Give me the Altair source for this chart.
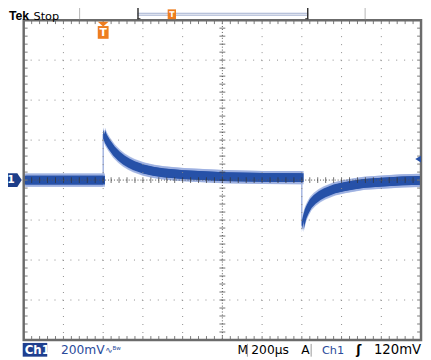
import altair as alt
import numpy as np
import pandas as pd

# ---- trace (time in µs, 0 = trigger; voltage in mV) ----
t_before = [-400, 0]
v_before = [0, 0]
t_on = [0, 10, 25, 50, 75, 100, 125, 150, 200, 250, 300, 400, 500, 600, 800, 1000]
v_on = [230, 205, 180, 145, 120, 100, 85, 72, 55, 44, 36, 27, 22, 17, 13, 12]
t_off = [1000, 1006, 1015, 1025, 1040, 1060, 1085, 1110, 1160, 1210, 1260, 1310, 1400, 1500, 1600]
v_off = [-228, -200, -168, -145, -118, -97, -78, -64, -44, -33, -24, -16, -10, -4, -1]

# screen layout (200 µs/div, 200 mV/div)
t_domain = [-400, 1600]
v_domain = [-800, 800]
grid_t = [-200, 0, 200, 400, 800, 1000, 1200, 1400]
grid_v = [-600, -400, -200, 200, 400, 600]
center_t = 600
center_v = 0
trigger_t = [0]
trigger_level = [105]

W, H = 405, 326
xs = alt.Scale(domain=t_domain, nice=False, zero=False)
ys = alt.Scale(domain=v_domain, nice=False, zero=False)


def X(f="t"):
    return alt.X(f"{f}:Q", scale=xs, axis=None)


def Y(f="v"):
    return alt.Y(f"{f}:Q", scale=ys, axis=None)


t_all = t_before + t_on + t_off
v_all = v_before + v_on + v_off
seg_all = ["a"] * len(t_before) + ["b"] * len(t_on) + ["c"] * len(t_off)
trace = pd.DataFrame({"t": t_all, "v": v_all, "seg": seg_all,
                      "i": list(range(len(t_all)))})

minor_t = np.arange(t_domain[0], t_domain[1] + 1, 40)
minor_v = np.arange(v_domain[0], v_domain[1] + 1, 40)
mt = pd.DataFrame({"t": minor_t, "v": center_v})
mv = pd.DataFrame({"v": minor_v, "t": center_t})
one = pd.DataFrame({"k": [0]})

layers = []

# ---- trace: thin line for the edges, then a noisy band (fringe + core) ----
base = alt.Chart(trace)
layers.append(base.mark_line(color="#8ea3d9", strokeWidth=1.2).encode(
    x=X(), y=Y(), order="i:Q"))
for shift in (0, 9):
    layers.append(base.transform_calculate(
        ts=f"datum.t + {shift}", lo="datum.v - 33", hi="datum.v + 33").mark_area(
        color="#9aaee0", opacity=0.8, clip=True).encode(
        x=X("ts"), y=Y("lo"), y2=alt.Y2("hi"), detail="seg:N"))
for shift in (0, 9):
    layers.append(base.transform_calculate(
        ts=f"datum.t + {shift}", lo="datum.v - 22", hi="datum.v + 22").mark_area(
        color="#2651a8", opacity=1, clip=True).encode(
        x=X("ts"), y=Y("lo"), y2=alt.Y2("hi"), detail="seg:N"))

# ---- graticule (drawn over the trace, as on the scope) ----
layers.append(alt.Chart(pd.DataFrame({"t": grid_t})).mark_rule(
    color="#8a8a8a", strokeWidth=1, strokeDash=[1, 7.15]).encode(x=X()))
layers.append(alt.Chart(pd.DataFrame({"v": grid_v})).mark_rule(
    color="#8a8a8a", strokeWidth=1, strokeDash=[1, 7.1]).encode(y=Y()))
layers.append(alt.Chart(pd.DataFrame({"t": [center_t]})).mark_rule(
    color="#555555", strokeWidth=1, strokeDash=[1, 2]).encode(x=X()))
layers.append(alt.Chart(pd.DataFrame({"v": [center_v]})).mark_rule(
    color="#555555", strokeWidth=1, strokeDash=[1, 2]).encode(y=Y()))
layers.append(alt.Chart(mt).mark_tick(
    orient="vertical", size=6, thickness=1, color="#333333").encode(x=X(), y=Y()))
layers.append(alt.Chart(mv).mark_tick(
    orient="horizontal", size=6, thickness=1, color="#333333").encode(x=X(), y=Y()))

# border ticks
bt = pd.DataFrame({"t": minor_t})
bv = pd.DataFrame({"v": minor_v})
tick_col = "#7a7a7a"
layers.append(alt.Chart(bt).mark_rule(color=tick_col).encode(x=X(), y=alt.value(0), y2=alt.value(4)))
layers.append(alt.Chart(bt).mark_rule(color=tick_col).encode(x=X(), y=alt.value(H), y2=alt.value(H - 4)))
layers.append(alt.Chart(bv).mark_rule(color=tick_col).encode(y=Y(), x=alt.value(0), x2=alt.value(4)))
layers.append(alt.Chart(bv).mark_rule(color=tick_col).encode(y=Y(), x=alt.value(W), x2=alt.value(W - 4)))

# frame
layers.append(alt.Chart(one).mark_rect(
    fill=None, stroke="#6b6b6b", strokeWidth=2.5).encode(
    x=alt.value(0), x2=alt.value(W), y=alt.value(0), y2=alt.value(H)))

# ground marker "1"
gnd = pd.DataFrame({"v": [0]})
layers.append(alt.Chart(gnd).mark_point(
    shape="M-1,-0.7L0.55,-0.7L1,0L0.55,0.7L-1,0.7Z", size=400, filled=True,
    color="#1d3e8a", opacity=1).encode(x=alt.value(-12), y=Y()))
layers.append(alt.Chart(gnd).mark_text(
    text="1", color="white", fontSize=11, fontWeight="bold", font="DejaVu Sans",
    align="center", baseline="middle").encode(x=alt.value(-13), y=Y()))

# trigger level marker (right)
layers.append(alt.Chart(pd.DataFrame({"v": trigger_level})).mark_point(
    shape="triangle-left", size=45, filled=True, color="#2651a8", opacity=1).encode(
    x=alt.value(W - 3), y=Y()))

# trigger position marker (top)
trig = pd.DataFrame({"t": trigger_t})
orange = "#ee7d1f"
layers.append(alt.Chart(trig).mark_point(
    shape="M-1,-0.45L1,-0.45L0,0.45Z", size=121, filled=True, color=orange, opacity=1).encode(
    x=X(), y=alt.value(4)))
layers.append(alt.Chart(trig).mark_point(
    shape="M-0.85,-1L0.85,-1L0.85,1L-0.85,1Z", size=169, filled=True, color=orange, opacity=1).encode(
    x=X(), y=alt.value(12.5)))
layers.append(alt.Chart(trig).mark_text(
    text="T", color="white", fontSize=11, fontWeight="bold", font="DejaVu Sans",
    align="center", baseline="middle").encode(x=X(), y=alt.value(13)))


def label(txt, x, y, size=12.5, color="#000000", weight="normal", font="DejaVu Sans"):
    return alt.Chart(one).mark_text(
        text=txt, align="left", baseline="alphabetic", fontSize=size, color=color,
        fontWeight=weight, font=font).encode(x=alt.value(x), y=alt.value(y))


def rule(x1, x2, y1, y2, color, width=1):
    return alt.Chart(one).mark_rule(color=color, strokeWidth=width).encode(
        x=alt.value(x1), x2=alt.value(x2), y=alt.value(y1), y2=alt.value(y2))


# top status bar
layers.append(label("Tek", -15, -0.5, size=12.5, weight="bold", font="Liberation Sans"))
layers.append(label("Stop", 10, -0.5, size=11.5))
layers.append(rule(57, 57, -17, -1, "#b5b5b5"))
layers.append(rule(348, 348, -17, -1, "#b5b5b5"))
layers.append(rule(116, 290, -6, -6, "#a9b5d2", 3))
layers.append(rule(116, 290, -6, -6, "#eef1f8", 1))
layers.append(rule(116.5, 116.5, -13, -1, "#333333", 1.5))
layers.append(rule(289.5, 289.5, -13, -1, "#333333", 1.5))
layers.append(rule(116, 119, -1.5, -1.5, "#333333", 1))
layers.append(rule(287, 290, -1.5, -1.5, "#333333", 1))
layers.append(alt.Chart(one).mark_point(
    shape="M-0.85,-1L0.85,-1L0.85,1L-0.85,1Z", size=100, filled=True, color=orange, opacity=1).encode(
    x=alt.value(151), y=alt.value(-6)))
layers.append(alt.Chart(one).mark_text(
    text="T", color="white", fontSize=8, fontWeight="bold", font="DejaVu Sans",
    align="center", baseline="middle").encode(x=alt.value(151), y=alt.value(-5.5)))

# bottom status bar
layers.append(alt.Chart(one).mark_rect(color="#1f3f8f").encode(
    x=alt.value(-1), x2=alt.value(24), y=alt.value(329), y2=alt.value(343)))
layers.append(label("Ch1", 1, 340.5, size=12, color="white", weight="bold"))
layers.append(label("200mV", 38, 340.5, color="#2b4b9b"))
layers.append(label("∿ᴮʷ", 83, 339, size=9, color="#2b4b9b"))
layers.append(label("M", 218, 340.5))
layers.append(rule(228, 228, 330, 343, "#999999"))
layers.append(label("200µs", 232, 340.5))
layers.append(label("A", 283, 340.5))
layers.append(rule(293, 293, 330, 343, "#999999"))
layers.append(label("Ch1", 304, 340.5, size=11.5, color="#2b4b9b"))
layers.append(label("ʃ", 339, 340.5, size=12.5, weight="bold"))
layers.append(label("120mV", 357, 340.5, size=13.5))

chart = alt.layer(*layers).properties(
    width=W, height=H,
    autosize=alt.AutoSizeParams(type="none"),
    padding={"left": 16, "top": 9, "right": 2, "bottom": 17},
    background="white",
).configure_view(stroke=None)

chart.save("out.html", embed_options={"renderer": "svg", "actions": False})
